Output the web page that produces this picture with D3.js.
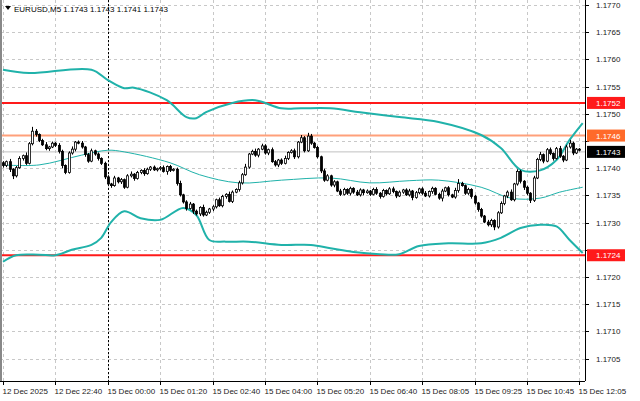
<!DOCTYPE html>
<html><head><meta charset="utf-8">
<script src="https://cdn.jsdelivr.net/npm/d3@7"></script>
<style>body{margin:0;background:#fff}svg{display:block;font-family:"Liberation Sans",Arial,sans-serif}</style>
</head><body><div id="chart"></div>
<script>
'use strict'
// closes in pips above 1.1700 (M5 bars)
const closes = [
  40.5,41.2,39.8,38.6,40.1,41.8,42.3,40.9,44.5,46.8,46.2,45.1,44.3,43.6,43.9,44.6,
  44.2,43.1,40.5,39.2,42.8,43.5,44.8,44.6,43.9,42.5,41.3,43.2,42.6,41.8,40.9,38.4,
  37.1,36.8,38.2,37.5,37.9,36.5,38.6,38.9,38.1,39.2,39.6,39.0,39.8,40.2,39.7,39.9,
  40.1,39.4,40.3,39.6,39.8,37.2,35.1,33.8,32.6,33.4,32.1,31.6,32.8,31.4,31.9,32.5,
  32.9,34.2,33.1,34.8,35.2,33.9,35.6,36.1,37.3,38.8,40.2,42.6,43.1,42.4,43.5,44.1,
  42.8,43.4,41.2,40.6,41.5,40.9,41.8,42.9,43.2,42.1,44.8,45.6,43.2,45.9,44.6,43.8,
  42.1,39.5,37.8,38.6,36.9,37.5,35.8,35.2,36.1,35.4,36.3,35.6,35.1,36.0,35.5,35.8,
  35.2,36.1,35.4,34.8,35.9,35.3,36.2,35.7,34.9,35.6,36.0,35.1,35.8,34.6,35.5,36.2,
  35.4,34.9,35.7,36.3,35.2,34.5,35.8,36.4,35.1,34.7,35.9,37.2,36.8,35.4,36.1,34.8,
  33.6,32.4,31.2,30.1,29.6,30.4,29.2,31.8,33.5,34.9,35.6,34.2,37.1,39.4,37.6,36.5,
  35.4,34.1,38.2,41.6,42.5,41.3,43.4,42.7,41.8,43.6,42.2,41.5,43.9,44.6,42.8,43.5,
  43.3
]
const firstOpen = 41.0
const wickUp = [
  3,2,5,2,3,4,2,6,3,8,4,2,3,5,2,3, 2,4,3,2,3,5,2,3,4,2,3,4,2,3,2,3,
  3,2,4,2,3,2,3,5,2,3,2,4,3,2,3,2, 3,4,2,3,2,3,5,2,3,4,2,3,2,5,3,2,
  3,2,4,3,2,5,3,2,4,3,6,2,3,5,2,4, 3,2,4,3,2,3,5,2,3,4,2,5,3,6,4,2,
  3,2,4,3,2,3,2,4,3,2,3,2,4,3,2,3, 2,3,4,2,3,2,3,4,2,3,2,3,4,2,3,2,
  3,4,2,3,2,3,4,2,3,2,5,8,3,2,3,2, 3,2,3,2,4,3,2,3,4,2,3,5,2,4,3,2,
  3,2,4,3,5,2,3,4,2,3,5,2,4,6,3,2, 2
]
const wickDn = [
  4,3,5,6,3,2,4,3,2,3,4,3,2,3,4,2, 3,4,5,3,2,3,4,2,3,4,3,2,3,4,3,4,
  3,4,2,3,4,3,2,3,4,2,3,4,2,3,2,3, 3,2,6,3,2,4,3,3,4,2,5,3,4,3,2,3,
  4,3,2,3,4,2,3,2,4,3,2,3,2,3,4,2, 3,4,2,3,4,3,2,3,2,4,3,2,3,2,3,2,
  3,4,3,2,3,4,2,3,2,3,4,3,2,3,5,2, 3,2,3,4,2,3,2,3,4,2,3,2,3,5,2,3,
  3,2,3,4,2,3,6,2,3,2,3,4,2,3,3,4, 3,4,3,2,3,4,6,3,2,3,4,2,3,3,4,5,
  4,5,3,2,3,4,2,3,4,2,3,4,2,3,4,2, 2
]
// Bollinger bands, sampled at bar index
const upperIdx = [0,8,27,32,37,40,50,56,59,62,70,77,85,91,100,109,121,133,146,152,158,164,169,173,177]
const upperVal = [58.1,57.5,58.1,56.2,54.7,54.8,52.5,49.4,49.2,50.3,52.0,52.5,51.0,51.0,51.0,50.3,49.4,48.5,46.1,43.7,39.7,39.6,41.5,45.2,48.3]
const midIdx = [0,11,24,32,37,51,60,72,85,100,112,124,133,146,155,164,170,177]
const midVal = [40.6,40.6,42.4,43.3,43.0,41.0,38.8,37.3,37.8,38.2,37.3,37.7,37.8,36.5,34.5,34.5,35.6,36.5]
const lowerIdx = [0,4,11,16,21,27,30,33,37,42,48,55,59,63,68,75,85,94,100,107,115,121,127,136,146,152,158,164,169,173,177]
const lowerVal = [22.8,24.0,24.1,24.0,25.0,25.9,27.2,30.1,32.1,30.8,30.5,32.7,31.4,26.8,26.5,26.5,25.9,25.9,25.3,24.6,24.2,24.2,25.7,26.2,26.2,27.2,29.0,29.6,29.3,26.8,24.4]
const priceTicks = [1.1770,1.1765,1.1760,1.1755,1.1750,1.1745,1.1740,1.1735,1.1730,1.1725,1.1720,1.1715,1.1710,1.1705]
const timeLabels = ['12 Dec 2025','12 Dec 22:40','15 Dec 00:00','15 Dec 01:20','15 Dec 02:40','15 Dec 04:00','15 Dec 05:20','15 Dec 06:40','15 Dec 08:05','15 Dec 09:25','15 Dec 10:45','15 Dec 12:05']
const levels = [{p: 1.1752, c: '#ff1a1a', w: 2}, {p: 1.1746, c: '#ffa07a', w: 2}, {p: 1.1724, c: '#ff1a1a', w: 2}]
const current = 1.1743
const separatorBar = 32

const W = 640, H = 401, plotR = 585, plotB = 381
const svg = d3.select('#chart').append('svg').attr('width', W).attr('height', H)

const x = d3.scaleLinear().domain([0, 177]).range([3, 582.7])
const y = d3.scaleLinear().domain([1.1705, 1.1770]).range([358.6, 5])
const px = v => 1.17 + v / 10000

// grid
const grid = svg.append('g').attr('stroke', '#c8c8c8').attr('stroke-dasharray', '3,3').attr('stroke-width', 1)
grid.selectAll('.h').data(priceTicks).enter().append('line')
  .attr('x1', 0).attr('x2', plotR).attr('y1', d => Math.round(y(d)) + 0.5).attr('y2', d => Math.round(y(d)) + 0.5)
grid.selectAll('.v').data(timeLabels).enter().append('line')
  .attr('x1', (d, i) => Math.round(x(i * 16)) + 0.5).attr('x2', (d, i) => Math.round(x(i * 16)) + 0.5)
  .attr('y1', 0).attr('y2', plotB)
svg.append('line').attr('x1', Math.round(x(separatorBar)) + 0.5).attr('x2', Math.round(x(separatorBar)) + 0.5)
  .attr('y1', 0).attr('y2', plotB).attr('stroke', '#000').attr('stroke-dasharray', '2,2')

// levels
levels.forEach(l => {
  svg.append('line').attr('x1', 0).attr('x2', plotR).attr('y1', y(l.p)).attr('y2', y(l.p))
    .attr('stroke', l.c).attr('stroke-width', l.w)
})
svg.append('line').attr('x1', 0).attr('x2', plotR).attr('y1', y(current)).attr('y2', y(current))
  .attr('stroke', '#c0c0c0')

// bands
const band = (idx, val, w) => {
  svg.append('path').datum(idx.map((d, i) => [d, val[i]]))
    .attr('d', d3.line().x(d => x(d[0])).y(d => y(px(d[1]))).curve(d3.curveCatmullRom))
    .attr('fill', 'none').attr('stroke', '#20b2aa').attr('stroke-width', w)
}
band(upperIdx, upperVal, 2)
band(lowerIdx, lowerVal, 2)
band(midIdx, midVal, 1)

// candles
const bars = closes.map((c, i) => {
  const o = i === 0 ? firstOpen : closes[i - 1]
  return {i, o, c, h: Math.max(o, c) + wickUp[i] / 10, l: Math.min(o, c) - wickDn[i] / 10}
})
const cg = svg.append('g')
cg.selectAll('.wick').data(bars).enter().append('line')
  .attr('x1', d => Math.round(x(d.i)) + 0.5).attr('x2', d => Math.round(x(d.i)) + 0.5)
  .attr('y1', d => y(px(d.h))).attr('y2', d => y(px(d.l))).attr('stroke', '#000')
cg.selectAll('.body').data(bars).enter().append('rect')
  .attr('x', d => Math.round(x(d.i)) - 0.5).attr('width', 2)
  .attr('y', d => y(px(Math.max(d.o, d.c))))
  .attr('height', d => Math.max(0.8, Math.abs(y(px(d.o)) - y(px(d.c)))))
  .attr('fill', d => d.c >= d.o ? '#fff' : '#000').attr('stroke', '#000').attr('stroke-width', 0.8)

// frame
svg.append('line').attr('x1', 1).attr('x2', 1).attr('y1', 0).attr('y2', plotB).attr('stroke', '#888').attr('stroke-width', 2)
svg.append('line').attr('x1', plotR + 0.5).attr('x2', plotR + 0.5).attr('y1', 0).attr('y2', plotB).attr('stroke', '#000')
svg.append('line').attr('x1', 0).attr('x2', plotR).attr('y1', plotB + 0.5).attr('y2', plotB + 0.5).attr('stroke', '#000')

// price axis
const tags = [{p: 1.1752, bg: '#ff1a1a'}, {p: 1.1746, bg: '#ff6a2a'}, {p: current, bg: '#000'}, {p: 1.1724, bg: '#ff1a1a'}]
const ax = svg.append('g').attr('font-size', 8).attr('fill', '#222')
priceTicks.forEach(p => {
  ax.append('line').attr('x1', plotR).attr('x2', plotR + 4).attr('y1', Math.round(y(p)) + 0.5).attr('y2', Math.round(y(p)) + 0.5).attr('stroke', '#000')
  if (tags.some(t => Math.abs(y(t.p) - y(p)) < 10)) return
  ax.append('text').attr('x', 596).attr('y', y(p) + 3).text(p.toFixed(4))
})
tags.forEach(t => {
  ax.append('rect').attr('x', 587).attr('y', y(t.p) - 6).attr('width', 38).attr('height', 12).attr('fill', t.bg)
  ax.append('text').attr('x', 596).attr('y', y(t.p) + 3).attr('fill', '#fff').text(t.p.toFixed(4))
})

// time axis
timeLabels.forEach((t, i) => {
  const xx = Math.round(x(i * 16)) + 0.5
  ax.append('line').attr('x1', xx).attr('x2', xx).attr('y1', plotB).attr('y2', plotB + 4).attr('stroke', '#000')
  ax.append('text').attr('x', xx - 1).attr('y', 394).text(t)
})

// title
svg.append('path').attr('d', 'M5,6 L11,6 L8,10 Z').attr('fill', '#000')
svg.append('text').attr('x', 14).attr('y', 12).attr('font-size', 8).attr('fill', '#000')
  .text('EURUSD,M5  1.1743 1.1743 1.1741 1.1743')
</script></body></html>
